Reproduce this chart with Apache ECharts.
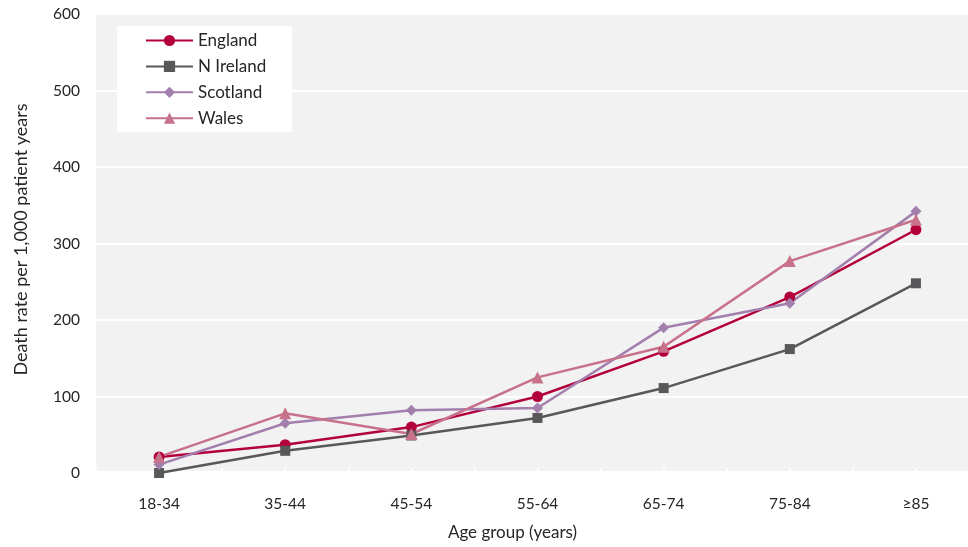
<!DOCTYPE html>
<html>
<head>
<meta charset="utf-8">
<script src="https://cdn.jsdelivr.net/npm/echarts@6/dist/echarts.min.js"></script>
<style>html,body{margin:0;padding:0;background:#fff}#c{width:968px;height:547px}</style>
</head>
<body>
<div id="c"></div>
<script>
const categories = ['18-34', '35-44', '45-54', '55-64', '65-74', '75-84', '≥85'];
const england = [21, 37, 60, 100, 159, 230, 318];
const nIreland = [0, 29, 49, 72, 111, 162, 248];
const scotland = [11, 65, 82, 85, 190, 222, 342];
const wales = [21, 78, 51, 125, 165, 277, 331];
const yTicks = [0, 100, 200, 300, 400, 500, 600];

const font = 'Lato, "Open Sans", sans-serif';
const textColor = '#262626';

function mkSeries(name, data, color, symbol, size) {
  return {
    name, type: 'line', data,
    symbol, symbolSize: size,
    lineStyle: { color, width: 2.5 },
    itemStyle: { color },
    emphasis: { disabled: true },
    animation: false
  };
}

const chart = echarts.init(document.getElementById('c'));
chart.setOption({
  animation: false,
  grid: { left: 96, width: 883, top: 14, height: 459, show: true, backgroundColor: '#f2f2f2', borderWidth: 0,
          containLabel: false, outerBoundsMode: 'none' },
  legend: {
    orient: 'vertical', left: 117, top: 26,
    backgroundColor: '#ffffff',
    padding: [6, 26, 5, 28],
    itemWidth: 47, itemHeight: 14, itemGap: 8.9,
    textStyle: { fontFamily: font, fontSize: 17, color: textColor },
    data: ['England', 'N Ireland', 'Scotland', 'Wales']
  },
  xAxis: [{
    type: 'category', data: categories, boundaryGap: true,
    name: 'Age group (years)', nameLocation: 'middle', nameGap: 51,
    nameTextStyle: { fontFamily: font, fontSize: 17, color: textColor, padding: [0, 50, 0, 0] },
    axisLine: { lineStyle: { color: '#ffffff', width: 5 } },
    axisTick: { show: true, inside: true, length: 5, lineStyle: { color: '#ffffff', width: 2 } },
    axisLabel: { fontFamily: font, fontSize: 15.5, color: textColor, margin: 23 }
  }, {
    type: 'category', data: categories, boundaryGap: true, position: 'bottom',
    axisLine: { show: false },
    axisTick: { show: true, inside: true, alignWithLabel: true, length: 5, lineStyle: { color: '#ffffff', width: 2 } },
    axisLabel: { show: false }
  }],
  yAxis: {
    type: 'value', min: 0, max: 600, interval: 100,
    name: 'Death rate per 1,000 patient years', nameLocation: 'middle', nameGap: 66,
    nameTextStyle: { fontFamily: font, fontSize: 18, color: textColor, padding: [0, 0, 0, 8] },
    axisLine: { show: false }, axisTick: { show: false },
    axisLabel: { fontFamily: font, fontSize: 15.5, color: textColor, margin: 16,
      formatter: v => yTicks.includes(v) ? String(v) : '' },
    splitLine: { lineStyle: { color: '#ffffff', width: 2 } }
  },
  series: [
    mkSeries('England', england, '#b3003b', 'circle', 11),
    mkSeries('N Ireland', nIreland, '#58585a', 'rect', 10),
    mkSeries('Scotland', scotland, '#a37fae', 'diamond', 11),
    mkSeries('Wales', wales, '#c7718a', 'triangle', 12)
  ]
});
</script>
</body>
</html>
